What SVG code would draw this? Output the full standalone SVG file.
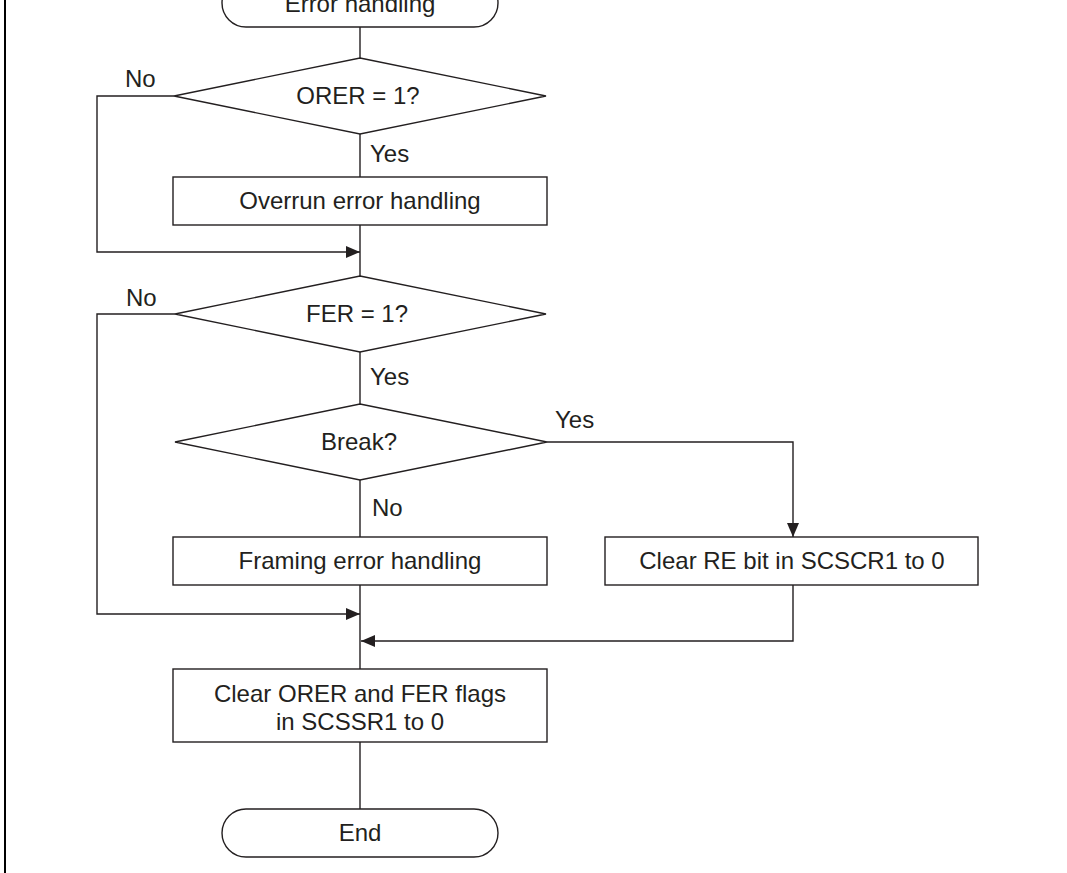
<svg xmlns="http://www.w3.org/2000/svg" width="1067" height="873" viewBox="0 0 1067 873">
<defs>
<style>
.s{fill:#fff;stroke:#231f20;stroke-width:1.4}
.c{fill:none;stroke:#231f20;stroke-width:1.4}
.t{font-family:"Liberation Sans",Arial,sans-serif;font-size:24px;fill:#231f20}
.m{text-anchor:middle}
</style>
<marker id="ah" viewBox="0 0 14 12" refX="14" refY="6" markerWidth="14" markerHeight="12" markerUnits="userSpaceOnUse" orient="auto">
<path d="M0,0 L14,6 L0,12 Z" fill="#231f20"/>
</marker>
</defs>
<rect width="1067" height="873" fill="#fff"/>
<line x1="5" y1="0" x2="5" y2="873" stroke="#000" stroke-width="2"/>
<g id="connectors">
<path class="c" d="M360,27 V58"/>
<path class="c" d="M360,134 V177"/>
<path class="c" d="M360,225 V276"/>
<path class="c" d="M360,352 V404"/>
<path class="c" d="M360,480 V537"/>
<path class="c" d="M360,585 V669"/>
<path class="c" d="M360,742 V809"/>
<path class="c" d="M174,96 H97 V252 H360" marker-end="url(#ah)"/>
<path class="c" d="M175,314 H97 V614 H360" marker-end="url(#ah)"/>
<path class="c" d="M547,442 H793 V537" marker-end="url(#ah)"/>
<path class="c" d="M793,585 V641 H361" marker-end="url(#ah)"/>
<text class="t" x="125" y="87">No</text>
<text class="t" x="370" y="162">Yes</text>
<text class="t" x="126" y="306">No</text>
<text class="t" x="370" y="385">Yes</text>
<text class="t" x="555" y="428">Yes</text>
<text class="t" x="372" y="516">No</text>
</g>
<g id="start">
<rect class="s" x="222" y="-21" width="276" height="48" rx="24" ry="24"/>
<text class="t m" x="360" y="12">Error handling</text>
</g>
<g id="orer">
<polygon class="s" points="360,58 546,96 360,134 174,96"/>
<text class="t m" x="358" y="104">ORER = 1?</text>
</g>
<g id="overrun">
<rect class="s" x="173" y="177" width="374" height="48"/>
<text class="t m" x="360" y="209">Overrun error handling</text>
</g>
<g id="fer">
<polygon class="s" points="360,276 546,314 360,352 175,314"/>
<text class="t m" x="357" y="322">FER = 1?</text>
</g>
<g id="break">
<polygon class="s" points="360,404 547,442 360,480 175,442"/>
<text class="t m" x="359" y="450">Break?</text>
</g>
<g id="framing">
<rect class="s" x="173" y="537" width="374" height="48"/>
<text class="t m" x="360" y="569">Framing error handling</text>
</g>
<g id="clearre">
<rect class="s" x="605" y="537" width="373" height="48"/>
<text class="t m" x="792" y="569">Clear RE bit in SCSCR1 to 0</text>
</g>
<g id="clearflags">
<rect class="s" x="173" y="669" width="374" height="73"/>
<text class="t m" x="360" y="702">Clear ORER and FER flags</text>
<text class="t m" x="360" y="730">in SCSSR1 to 0</text>
</g>
<g id="end">
<rect class="s" x="222" y="809" width="276" height="48" rx="24" ry="24"/>
<text class="t m" x="360" y="841">End</text>
</g>
</svg>
